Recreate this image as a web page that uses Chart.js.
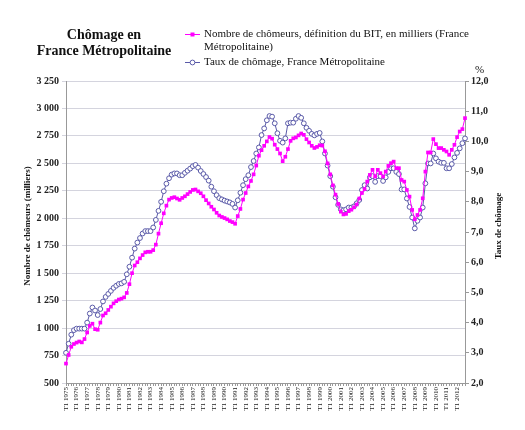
<!DOCTYPE html>
<html>
<head>
<meta charset="utf-8">
<script src="https://cdn.jsdelivr.net/npm/chart.js@4/dist/chart.umd.min.js"></script>
<style>
  html, body { margin: 0; padding: 0; background: #fff; }
  #wrap { width: 525px; height: 430px; position: relative; }
</style>
</head>
<body>
<div id="wrap"><canvas id="chomageChart"></canvas></div>
<script>
// quarters T1 1975 .. T4 2012
const firstYear = 1975;
const lastYear = 2012;

// Nombre de chômeurs (BIT), milliers
const chomeurs = [
  677, 755, 830, 855,   868, 878, 870, 900,   960, 1020, 1040, 990,   985, 1050, 1115, 1135,
  1165, 1195, 1225, 1245,   1260, 1268, 1280, 1320,   1400, 1500, 1570, 1600,   1635, 1665, 1690, 1695,
  1695, 1710, 1760, 1860,   1955, 2045, 2115, 2170,   2185, 2192, 2180, 2168,   2185, 2200, 2220, 2240,
  2258, 2262, 2245, 2228,   2200, 2165, 2135, 2105,   2080, 2050, 2025, 2012,   2002, 1990, 1975, 1965,
  1950, 2020, 2085, 2170,   2230, 2290, 2340, 2400,   2480, 2570, 2620, 2660,   2700, 2740, 2725, 2670,
  2630, 2590, 2520, 2560,   2630, 2705, 2728, 2736,   2755, 2772, 2760, 2720,   2690, 2660, 2640, 2650,
  2665, 2662, 2610, 2500,   2400, 2300, 2215, 2130,   2060, 2035, 2040, 2065,   2078, 2100, 2125, 2180,
  2230, 2265, 2334, 2395,   2441, 2380, 2441, 2411,   2380, 2425, 2477, 2502,   2516, 2456, 2456, 2349,
  2334, 2258, 2197, 2076,   1991, 2030, 2076, 2182,   2425, 2599, 2599, 2721,   2675, 2639, 2639, 2623,
  2608, 2578, 2623, 2669,   2739, 2790, 2812, 2912
];

// Taux de chômage, %
const taux = [
  3.0, 3.3, 3.6, 3.75,   3.8, 3.8, 3.8, 3.8,   4.0, 4.3, 4.5, 4.4,   4.25, 4.45, 4.7, 4.85,
  4.95, 5.05, 5.15, 5.22,   5.28, 5.3, 5.35, 5.6,   5.85, 6.15, 6.45, 6.65,   6.8, 6.95, 7.03, 7.03,
  7.03, 7.15, 7.4, 7.7,   8.0, 8.35, 8.6, 8.78,   8.9, 8.94, 8.94, 8.88,   8.88, 8.96, 9.03, 9.1,
  9.18, 9.22, 9.13, 9.02,   8.92, 8.82, 8.7, 8.5,   8.35, 8.22, 8.12, 8.08,   8.04, 8.01, 7.98, 7.93,
  7.81, 8.05, 8.3, 8.55,   8.75, 8.88, 9.15, 9.35,   9.6, 9.8, 10.21, 10.43,   10.7, 10.84, 10.82, 10.6,
  10.27, 10.02, 9.96, 10.1,   10.6, 10.62, 10.62, 10.75,   10.84, 10.78, 10.6, 10.45,   10.35, 10.25, 10.2, 10.25,
  10.28, 10.0, 9.6, 9.2,   8.85, 8.5, 8.15, 7.9,   7.75, 7.72, 7.75, 7.81,   7.81, 7.85, 7.95, 8.06,
  8.39, 8.55, 8.44, 8.81,   8.85, 8.66, 8.85, 8.85,   8.69, 8.81, 8.99, 9.11,   9.11, 8.99, 8.92, 8.41,
  8.41, 8.11, 7.83, 7.48,   7.12, 7.37, 7.48, 7.81,   8.61, 9.27, 9.27, 9.6,   9.44, 9.33, 9.29, 9.29,
  9.11, 9.11, 9.25, 9.47,   9.62, 9.77, 9.94, 10.1
];

const quarters = [];
for (let y = firstYear; y <= lastYear; y++) {
  for (let q = 1; q <= 4; q++) quarters.push("T" + q + " " + y);
}

const serif = '"Liberation Serif", "Times New Roman", serif';

// title, legend and axis titles drawn straight on the canvas
const decor = {
  id: "decor",
  afterDraw(chart) {
    const ctx = chart.ctx;
    ctx.save();
    ctx.fillStyle = "#111";
    ctx.textBaseline = "middle";

    ctx.font = "bold 14px " + serif;
    ctx.textAlign = "center";
    ctx.fillText("Chômage en", 104, 35);
    ctx.fillText("France Métropolitaine", 104, 51);

    // legend
    ctx.textAlign = "left";
    ctx.font = "11px " + serif;
    ctx.lineWidth = 1;
    ctx.strokeStyle = "#ff00ff";
    ctx.beginPath(); ctx.moveTo(185, 34.5); ctx.lineTo(200, 34.5); ctx.stroke();
    ctx.fillStyle = "#ff00ff";
    ctx.fillRect(190.5, 32.5, 4, 4);
    ctx.strokeStyle = "#5a5aa8";
    ctx.beginPath(); ctx.moveTo(185, 62.5); ctx.lineTo(200, 62.5); ctx.stroke();
    ctx.fillStyle = "#fff";
    ctx.beginPath(); ctx.arc(192.5, 62.5, 2.4, 0, Math.PI * 2); ctx.fill(); ctx.stroke();
    ctx.fillStyle = "#111";
    ctx.fillText("Nombre de chômeurs, définition du BIT, en milliers (France", 204, 34);
    ctx.fillText("Métropolitaine)", 204, 47);
    ctx.fillText("Taux de chômage, France Métropolitaine", 204, 62);

    ctx.fillText("%", 475, 70);

    // axis titles
    ctx.font = "bold 9px " + serif;
    ctx.textAlign = "center";
    ctx.save();
    ctx.translate(28, 226);
    ctx.rotate(-Math.PI / 2);
    ctx.fillText("Nombre de chômeurs (milliers)", 0, 0);
    ctx.restore();
    ctx.save();
    ctx.translate(499, 226);
    ctx.rotate(-Math.PI / 2);
    ctx.fillText("Taux de chômage", 0, 0);
    ctx.restore();

    ctx.restore();
  }
};

function milliers(v) {
  if (v < 1000) return String(v);
  return Math.floor(v / 1000) + " " + String(v % 1000).padStart(3, "0");
}

const ctx = document.getElementById("chomageChart").getContext("2d");
new Chart(ctx, {
  type: "line",
  data: {
    labels: quarters,
    datasets: [
      {
        label: "Nombre de chômeurs, définition du BIT, en milliers (France Métropolitaine)",
        data: chomeurs,
        yAxisID: "y",
        borderColor: "#ff00ff",
        backgroundColor: "#ff00ff",
        borderWidth: 1,
        pointStyle: "rect",
        pointRadius: 2.6,
        pointBorderWidth: 0,
        tension: 0
      },
      {
        label: "Taux de chômage, France Métropolitaine",
        data: taux,
        yAxisID: "y1",
        borderColor: "#5a5aa8",
        backgroundColor: "#ffffff",
        borderWidth: 1,
        pointStyle: "circle",
        pointRadius: 2.4,
        pointBorderWidth: 1,
        tension: 0
      }
    ]
  },
  options: {
    responsive: true,
    maintainAspectRatio: false,
    animation: false,
    layout: { padding: { top: 81, left: 0, right: 0, bottom: 0 } },
    plugins: {
      legend: { display: false },
      title: { display: false },
      tooltip: { enabled: false }
    },
    scales: {
      x: {
        afterFit: (scale) => { scale.height = 47; },
        grid: { drawOnChartArea: false, tickLength: 3, color: "#999" },
        border: { color: "#999" },
        ticks: {
          autoSkip: false,
          maxRotation: 90,
          minRotation: 90,
          padding: 1,
          color: "#222",
          font: { family: serif, size: 7 },
          callback: function (val, i) { return i % 4 === 0 ? quarters[i] : ""; }
        }
      },
      y: {
        position: "left",
        min: 500,
        max: 3250,
        afterFit: (scale) => { scale.width = 66; },
        grid: { color: "#d4d4de", tickLength: 4 },
        border: { color: "#999" },
        ticks: {
          stepSize: 250,
          padding: 3,
          color: "#222",
          font: { family: serif, size: 10, weight: "bold" },
          callback: (v) => milliers(v)
        }
      },
      y1: {
        position: "right",
        min: 2,
        max: 12,
        afterFit: (scale) => { scale.width = 60; },
        grid: { drawOnChartArea: false, tickLength: 4, color: "#999" },
        border: { color: "#999" },
        ticks: {
          stepSize: 1,
          padding: 2,
          color: "#222",
          font: { family: serif, size: 10, weight: "bold" },
          callback: (v) => v.toFixed(1).replace(".", ",")
        }
      }
    }
  },
  plugins: [decor]
});
</script>
</body>
</html>
